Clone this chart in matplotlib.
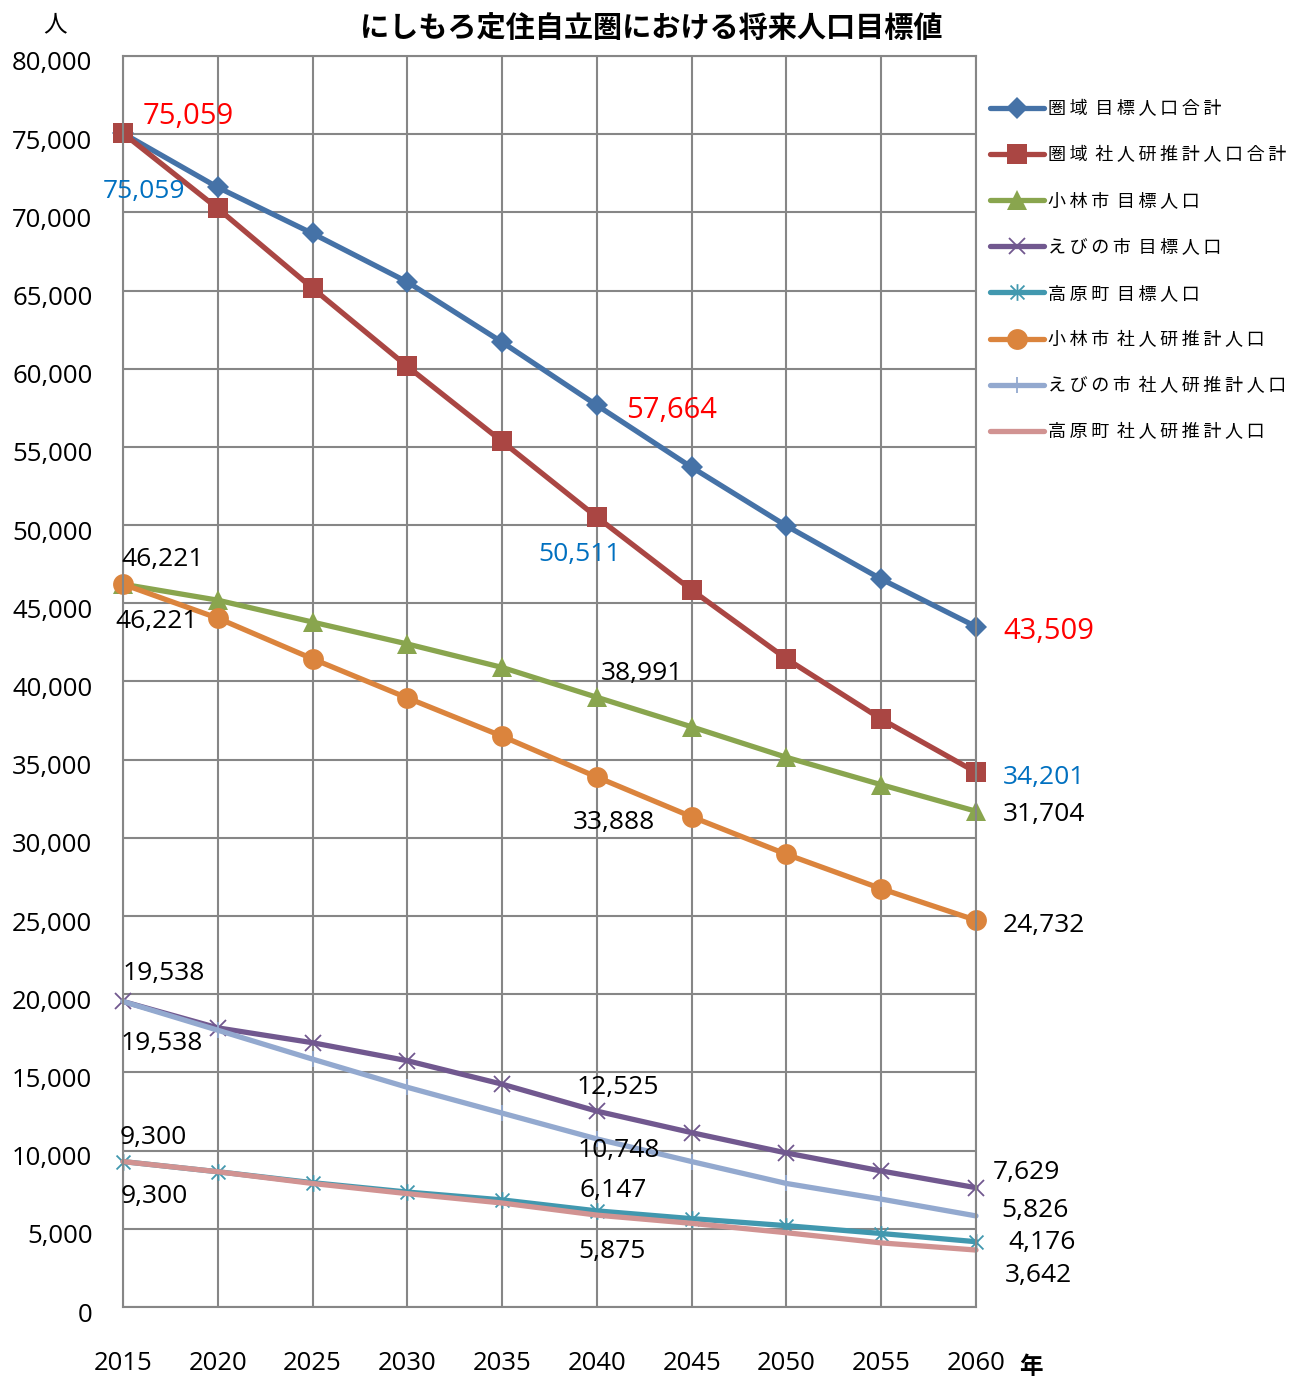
import matplotlib
matplotlib.use('Agg')
import matplotlib.pyplot as plt
from matplotlib.path import Path
from matplotlib.ticker import StrMethodFormatter
from matplotlib.transforms import ScaledTranslation
from matplotlib.font_manager import FontProperties

plt.rcParams['font.family'] = ['Open Sans', 'Noto Sans CJK JP', 'DejaVu Sans']

# --- データ ---
years = [2015, 2020, 2025, 2030, 2035, 2040, 2045, 2050, 2055, 2060]

area_target = [75059, 71600, 68650, 65550, 61700, 57664, 53700, 49950, 46550, 43509]
area_ipss = [75059, 70250, 65150, 60150, 55350, 50511, 45850, 41450, 37600, 34201]
kobayashi_target = [46221, 45200, 43800, 42400, 40900, 38991, 37100, 35150, 33400, 31704]
ebino_target = [19538, 17850, 16900, 15750, 14250, 12525, 11150, 9850, 8700, 7629]
takaharu_target = [9300, 8650, 7950, 7350, 6850, 6147, 5650, 5200, 4700, 4176]
kobayashi_ipss = [46221, 44050, 41450, 38950, 36500, 33888, 31350, 28950, 26750, 24732]
ebino_ipss = [19538, 17700, 15850, 14050, 12400, 10748, 9300, 7900, 6900, 5826]
takaharu_ipss = [9300, 8650, 7900, 7250, 6650, 5875, 5350, 4750, 4100, 3642]

series_names = [
    '圏域 目標人口合計',
    '圏域 社人研推計人口合計',
    '小林市 目標人口',
    'えびの市 目標人口',
    '高原町 目標人口',
    '小林市 社人研推計人口',
    'えびの市 社人研推計人口',
    '高原町 社人研推計人口',
]
series_values = [area_target, area_ipss, kobayashi_target, ebino_target,
                 takaharu_target, kobayashi_ipss, ebino_ipss, takaharu_ipss]

y_ticks = list(range(0, 80001, 5000))

# Excel風スターマーカー (x + 縦線)
star = Path([(-1, -1), (1, 1), (-1, 1), (1, -1), (0, -1.2), (0, 1.2)],
            [Path.MOVETO, Path.LINETO, Path.MOVETO, Path.LINETO, Path.MOVETO, Path.LINETO])

styles = [
    dict(color='#4572A7', marker='D', markersize=11, markeredgewidth=0),
    dict(color='#AA4643', marker='s', markersize=14, markeredgewidth=0),
    dict(color='#89A54E', marker='^', markersize=14, markeredgewidth=0),
    dict(color='#71588F', marker='x', markersize=12, markeredgewidth=1.3),
    dict(color='#4198AF', marker=star, markersize=12, markeredgewidth=1.3,
         markerfacecolor='none'),
    dict(color='#DB843D', marker='o', markersize=15, markeredgewidth=0),
    dict(color='#93A9CF', marker='|', markersize=11, markeredgewidth=1.3),
    dict(color='#D19392', marker='None'),
]

# データラベル: (系列番号, 年の位置, 色, dx, dy, 文字サイズ)  dx/dy はピクセル
labels = [
    (1, 0, '#FF0000', 20, 17, 21),
    (0, 0, '#0070C0', -20, -58, 19),
    (0, 5, '#FF0000', 29, -5, 21),
    (1, 5, '#0070C0', -59, -37, 19),
    (0, 9, '#FF0000', 27, -5, 21),
    (1, 9, '#0070C0', 27, -5, 19),
    (2, 0, 'black', -2, 25, 19),
    (5, 0, 'black', -8, -37, 19),
    (2, 5, 'black', 4, 24, 19),
    (5, 5, 'black', -24, -45, 19),
    (2, 9, 'black', 27, -3, 19),
    (5, 9, 'black', 27, -5, 19),
    (3, 0, 'black', 0, 28, 19),
    (6, 0, 'black', -2, -42, 19),
    (3, 5, 'black', -20, 24, 19),
    (6, 5, 'black', -19, -12, 19),
    (4, 5, 'black', -17, 20, 19),
    (7, 5, 'black', -19, -36, 19),
    (4, 0, 'black', -3, 24, 19),
    (7, 0, 'black', -2, -35, 19),
    (3, 9, 'black', 17, 15, 19),
    (6, 9, 'black', 25, 5, 19),
    (4, 9, 'black', 32, -1, 19),
    (7, 9, 'black', 29, -25, 19),
]

W, H = 1292, 1379
fig = plt.figure(figsize=(W / 100, H / 100), dpi=100)
ax = fig.add_axes([123 / W, 1 - 1307 / H, (976 - 123) / W, (1307 - 56) / H])

grid_color = '#868686'
handles = []
for vals, st in zip(series_values, styles):
    kw = dict(markerfacecolor=st['color'], markeredgecolor=st['color'])
    kw.update(st)
    line, = ax.plot(years, vals, lw=3.8, clip_on=False, solid_capstyle='round', **kw)
    handles.append(line)

for si, yi, col, dx, dy, fs in labels:
    v = series_values[si][yi]
    ax.annotate(f'{v:,}', xy=(years[yi], v), xytext=(dx, dy),
                textcoords='offset pixels', ha='left', va='center',
                color=col, fontsize=fs, annotation_clip=False)

ax.set_xlim(2015, 2060)
ax.set_ylim(0, 80000)
ax.set_xticks(years)
ax.set_yticks(y_ticks)
ax.yaxis.set_major_formatter(StrMethodFormatter('{x:,.0f}'))
ax.grid(True, color=grid_color, lw=1.5)
ax.set_axisbelow(True)
for sp in ax.spines.values():
    sp.set_color(grid_color)
    sp.set_linewidth(1.5)
ax.tick_params(axis='x', length=0, pad=32, labelsize=18.5)
ax.tick_params(axis='y', length=0, pad=22, labelsize=18.5)

# 目盛ラベルを少し下へずらす
shift = ScaledTranslation(0, -5 / 100, fig.dpi_scale_trans)
for lab in ax.get_yticklabels():
    lab.set_transform(lab.get_transform() + shift)

fig.text(651 / W, 1 - 28 / H, 'にしもろ定住自立圏における将来人口目標値',
         ha='center', va='center', fontsize=21, fontweight='bold',
         family=['Noto Sans CJK JP', 'DejaVu Sans'])
fig.text(55 / W, 1 - 25 / H, '人', ha='center', va='center', fontsize=17,
         family=['Noto Sans CJK JP'])
fig.text(1031 / W, 1 - 1367 / H, '年', ha='center', va='center', fontsize=17,
         fontweight='bold', family=['Noto Sans CJK JP'])


def spaced(s):
    return ' \u2009'.join('\u2009'.join(part) for part in s.split(' '))


leg = fig.legend(handles, [spaced(n) for n in series_names], loc='upper left',
                 bbox_to_anchor=(990 / W, 1 - 100 / H), frameon=False,
                 handlelength=3.0, handletextpad=0.2, labelspacing=1.56,
                 borderaxespad=0, borderpad=0,
                 prop=FontProperties(family=['Noto Sans CJK JP', 'DejaVu Sans'], size=13))

fig.savefig('out.png', dpi=100)
